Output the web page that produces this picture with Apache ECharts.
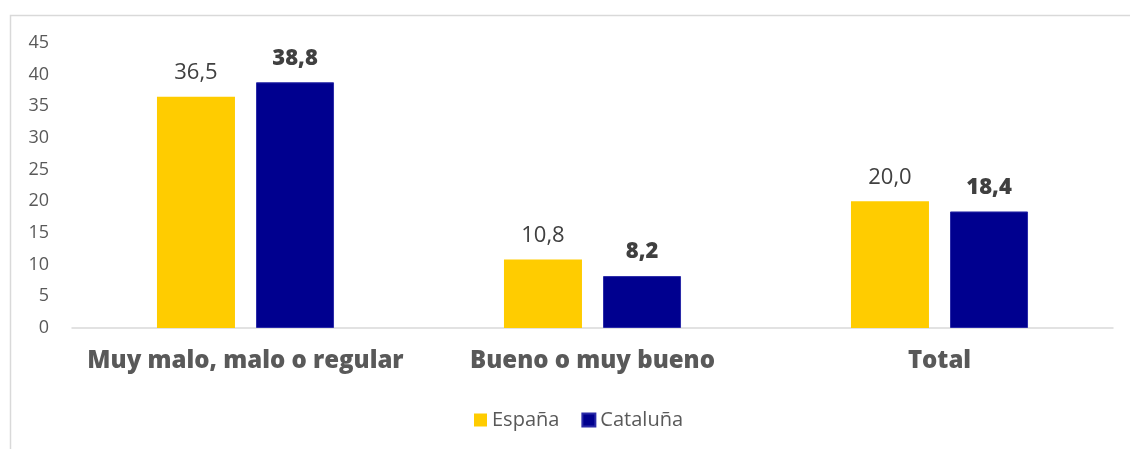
<!DOCTYPE html>
<html>
<head>
<meta charset="utf-8">
<script src="https://cdn.jsdelivr.net/npm/echarts@6/dist/echarts.min.js"></script>
<style>
  html, body { margin: 0; padding: 0; background: #fff; }
  #chart { width: 1130px; height: 449px; }
</style>
</head>
<body>
<div id="chart"></div>
<script>
const categories = ["Muy malo, malo o regular", "Bueno o muy bueno", "Total"];
const espana = [36.5, 10.8, 20.0];
const cataluna = [38.8, 8.2, 18.4];
const yTicks = [0, 5, 10, 15, 20, 25, 30, 35, 40, 45];

const fmt = function (p) {
  return p.value.toFixed(1).replace(".", ",");
};

const chart = echarts.init(document.getElementById("chart"));
const option = {
  animation: false,
  graphic: [
    { // outer frame
      type: "rect",
      left: 8,
      top: 13,
      shape: { width: 1200, height: 500 },
      style: { fill: "none", stroke: "#d9d9d9", lineWidth: 1.5 }
    }
  ],
  grid: {
    left: 72,
    right: 17,
    top: 43,
    bottom: 121
  },
  legend: {
    top: 405,
    left: 469,
    itemWidth: 13,
    itemHeight: 13,
    itemGap: 22,
    icon: "rect",
    textStyle: { fontFamily: "Open Sans", fontSize: 20, color: "#595959", padding: [0, 0, 0, 0] },
    data: ["España", "Cataluña"]
  },
  xAxis: {
    type: "category",
    data: categories,
    axisTick: { show: false },
    axisLine: { lineStyle: { color: "#d9d9d9", width: 1.5 } },
    axisLabel: {
      interval: 0,
      margin: 21,
      fontFamily: "Open Sans",
      fontWeight: 800,
      fontSize: 24,
      color: "#595959"
    }
  },
  yAxis: {
    type: "value",
    min: yTicks[0],
    max: yTicks[yTicks.length - 1],
    interval: 5,
    splitLine: { show: false },
    axisLine: { show: false },
    axisTick: { show: false },
    axisLabel: {
      margin: 23,
      fontFamily: "Open Sans",
      fontSize: 18,
      color: "#595959"
    }
  },
  series: [
    {
      name: "España",
      type: "bar",
      data: espana,
      barWidth: 78,
      barGap: "27%",
      itemStyle: { color: "#FFCC00" },
      label: {
        show: true,
        position: "top",
        distance: 13,
        formatter: fmt,
        fontFamily: "Open Sans",
        fontSize: 22,
        color: "#404040"
      }
    },
    {
      name: "Cataluña",
      type: "bar",
      data: cataluna,
      barWidth: 78,
      itemStyle: { color: "#00008F", borderColor: "#2a2aa8", borderWidth: 1 },
      label: {
        show: true,
        position: "top",
        distance: 13,
        formatter: fmt,
        fontFamily: "Open Sans",
        fontWeight: 800,
        fontSize: 22,
        color: "#404040"
      }
    }
  ]
};
chart.setOption(option);
</script>
</body>
</html>
